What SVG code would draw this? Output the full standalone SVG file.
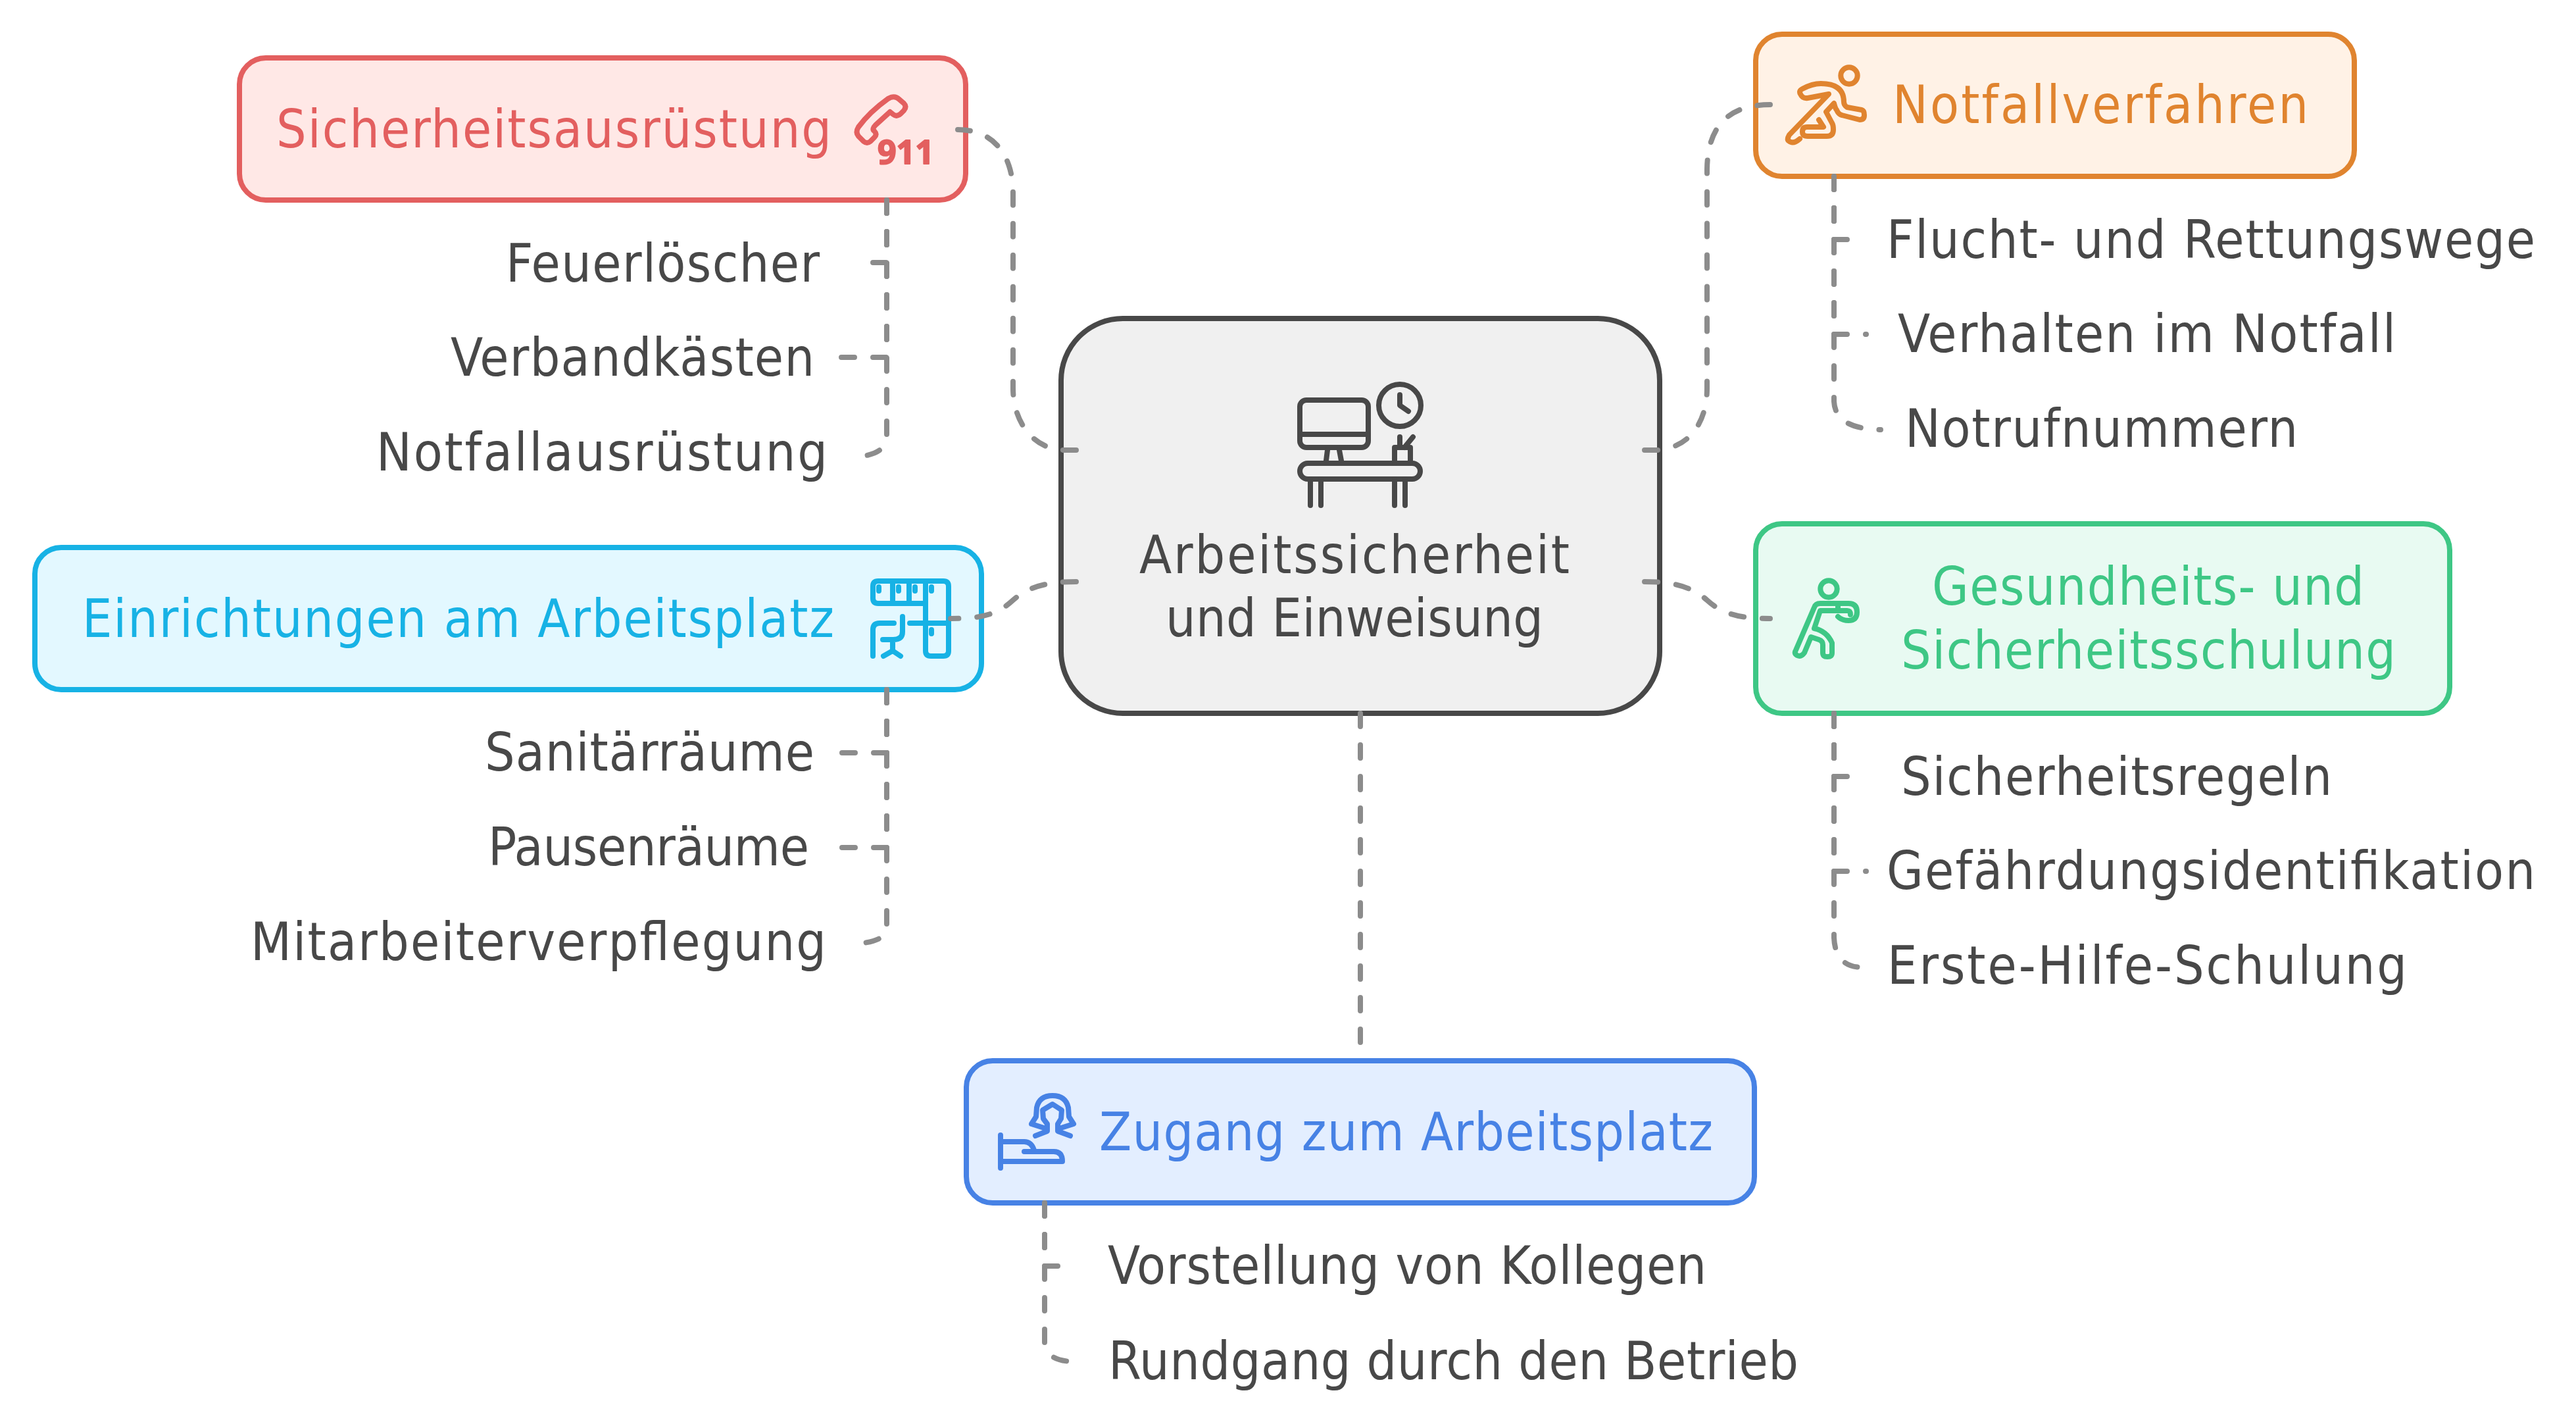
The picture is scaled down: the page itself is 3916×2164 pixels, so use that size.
<svg xmlns="http://www.w3.org/2000/svg" width="3916" height="2164" viewBox="0 0 3916 2164">
<style>
text{font-family:"DejaVu Sans Condensed","DejaVu Sans",sans-serif;font-stretch:condensed;font-size:80px;fill:#484848}
.box{stroke-width:8}
.ic{fill:none;stroke-width:8;stroke-linecap:round;stroke-linejoin:round}
.c{fill:none;stroke:#8c8c8c;stroke-width:8;stroke-linecap:round;stroke-dasharray:20 28}
</style>
<rect width="3916" height="2164" fill="#fff"/>
<g id="node-center">
<rect class="box" x="1613" y="484" width="910" height="600" rx="94" fill="#f0f0f0" stroke="#484848"/>
<g class="ic" stroke="#484848">
<rect x="1976" y="608" width="104" height="72" rx="10"/><path d="M1976 660H2080M2018 684L2016 700M2036 684L2039 700"/>
<rect x="1976" y="704" width="183" height="24" rx="12"/>
<path d="M1992 728V768M2008 728V768M2120 728V768M2136 728V768M2120 704V680H2144V704M2128 664V680M2148 664L2135 680"/>
<circle cx="2128" cy="616" r="32"/><path d="M2128 600V616L2141 625"/>
</g>
<text x="1732" y="871" textLength="654">Arbeitssicherheit</text>
<text x="1772" y="967" textLength="574">und Einweisung</text>
</g>
<g id="node-sicherheit">
<rect class="box" x="364" y="88" width="1104" height="216" rx="40" fill="#ffe8e6" stroke="#e35f5f"/>
<path class="ic" stroke="#e35f5f" d="M1350 150Q1360 144 1367 151L1374 157Q1379 162 1374 168L1369 173Q1363 178 1358 174L1353 170L1331 190Q1325 196 1329 199Q1334 204 1329 209L1323 215Q1318 219 1313 215L1305 207Q1300 201 1305 193Q1322 170 1350 150Z"/>
<text x="1334" y="249" style="font-family:'Noto Sans',sans-serif;font-stretch:normal;font-size:50px;font-weight:700;fill:#e35f5f;stroke:#e35f5f;stroke-width:2;stroke-linejoin:round">911</text>
<text x="420" y="224" textLength="844" style="fill:#e35f5f">Sicherheitsausrüstung</text>
</g>
<g id="node-notfall">
<rect class="box" x="2669" y="52" width="910" height="216" rx="40" fill="#fff2e6" stroke="#e0842f"/>
<g class="ic" stroke="#e0842f"><circle cx="2811" cy="115" r="12.7"/>
<path d="M2765 182L2772 193H2747Q2740 193 2740 200Q2740 207 2748 207H2777Q2787 207 2787 197Q2787 190 2785 187L2776 170L2788 157Q2790 165 2792 167Q2795 174 2800 175L2827 182Q2834 182 2834 175Q2834 168 2830 167L2808 163Q2803 160 2803 155Q2803 127 2768 127Q2755 127 2740 135Q2734 138 2737 143Q2740 150 2748 149L2780 143L2720 205Q2716 212 2719 214Q2726 220 2736 211"/></g>
<text x="2877" y="187" textLength="632" style="fill:#e0842f">Notfallverfahren</text>
</g>
<g id="node-einrichtungen">
<rect class="box" x="53" y="832" width="1439" height="216" rx="40" fill="#e3f8ff" stroke="#17b2e5"/>
<path class="ic" stroke="#17b2e5" d="M1407 917H1335Q1327 917 1327 909V891Q1327 883 1335 883H1434Q1442 883 1442 891V989Q1442 997 1434 997H1415Q1407 997 1407 989V883M1357 883V917M1382 883V917M1336 892V898M1366 892V898M1391 892V898M1416 892V898M1416 957V963M1383 947H1442M1327 997V957Q1327 947 1337 947H1359M1372 937V960Q1372 972 1358 972H1342M1357 972V990M1343 997L1357 989L1369 997"/>
<text x="125" y="968" textLength="1143" style="fill:#17b2e5">Einrichtungen am Arbeitsplatz</text>
</g>
<g id="node-gesundheit">
<rect class="box" x="2669" y="796" width="1055" height="288" rx="40" fill="#e8faf2" stroke="#3ec785"/>
<g class="ic" stroke="#3ec785"><circle cx="2780" cy="895" r="12.7"/>
<path d="M2813 934Q2813 928 2808 928H2767L2758 955Q2777 959 2785 977V992Q2785 998 2778 998Q2771 998 2771 992V980Q2771 974 2765 972L2753 968L2743 992Q2738 999 2732 996Q2727 993 2730 988L2758 923Q2760 917 2767 917H2810Q2823 917 2823 930Q2823 943 2810 943Q2800 943 2794 937M2794 917V928"/></g>
<text x="2937" y="919" textLength="657" style="fill:#3ec785">Gesundheits- und</text>
<text x="2890" y="1016" textLength="752" style="fill:#3ec785">Sicherheitsschulung</text>
</g>
<g id="node-zugang">
<rect class="box" x="1469" y="1612" width="1198" height="216" rx="40" fill="#e3eeff" stroke="#4782e5"/>
<path class="ic" stroke="#4782e5" d="M1521 1725V1775M1521 1735H1557Q1568 1735 1572 1748M1521 1765H1615Q1615 1750 1602 1750H1557M1574 1726L1592 1719V1708L1586 1700L1585 1687L1600 1678L1614 1687L1613 1700L1608 1708V1719L1627 1726M1590 1715L1568 1708L1575 1697L1576 1683Q1580 1665 1600 1665Q1620 1665 1624 1683L1625 1697L1632 1708L1610 1715"/>
<text x="1671" y="1748" textLength="933" style="fill:#4782e5">Zugang zum Arbeitsplatz</text>
</g>
<g id="leaf-red">
<text x="769" y="428" textLength="477">Feuerlöscher</text>
<text x="685" y="571" textLength="553">Verbandkästen</text>
<text x="572" y="715" textLength="686">Notfallausrüstung</text>
</g>
<g id="leaf-orange">
<text x="2868" y="392" textLength="986">Flucht- und Rettungswege</text>
<text x="2885" y="535" textLength="757">Verhalten im Notfall</text>
<text x="2896" y="679" textLength="597">Notrufnummern</text>
</g>
<g id="leaf-green">
<text x="2890" y="1208" textLength="655">Sicherheitsregeln</text>
<text x="2868" y="1351" textLength="986">Gefährdungsidentifikation</text>
<text x="2869" y="1495" textLength="790">Erste-Hilfe-Schulung</text>
</g>
<g id="leaf-cyan">
<text x="737" y="1171" textLength="501">Sanitärräume</text>
<text x="742" y="1315" textLength="488">Pausenräume</text>
<text x="381" y="1459" textLength="875">Mitarbeiterverpflegung</text>
</g>
<g id="leaf-blue">
<text x="1684" y="1951" textLength="910">Vorstellung von Kollegen</text>
<text x="1685" y="2096" textLength="1049">Rundgang durch den Betrieb</text>
</g>
<g id="connectors">
<path class="c" d="M1636 684H1620C1570 684 1540 640 1540 590V294C1540 235 1510 197 1456 197"/>
<path class="c" d="M2500 684H2520C2570 680 2595 640 2595 590V260C2595 200 2620 159 2691 159"/>
<path class="c" d="M2500 884C2540 884 2570 890 2595 912C2620 935 2650 940 2691 940"/>
<path class="c" d="M1636 884C1595 884 1565 890 1540 912C1515 935 1490 940 1445 940"/>
<path class="c" d="M2068 1084V1585"/>
<path class="c" d="M1348 304V399H1299"/>
<path class="c" d="M1348 304V543H1279"/>
<path class="c" d="M1348 304V660Q1350 690 1304 694"/>
<path class="c" d="M2788 268V364H2824"/>
<path class="c" d="M2788 268V508H2837"/>
<path class="c" d="M2788 268V610Q2790 652 2859 653"/>
<path class="c" d="M2788 1084V1180H2825"/>
<path class="c" d="M2788 1084V1324H2837"/>
<path class="c" d="M2788 1084V1425Q2790 1468 2828 1470"/>
<path class="c" d="M1348 1048V1144H1279"/>
<path class="c" d="M1348 1048V1288H1279"/>
<path class="c" d="M1348 1048V1408Q1350 1430 1304 1434"/>
<path class="c" d="M1588 1828V1924H1636"/>
<path class="c" d="M1588 1828V2040Q1590 2068 1630 2069"/>
</g>
</svg>
